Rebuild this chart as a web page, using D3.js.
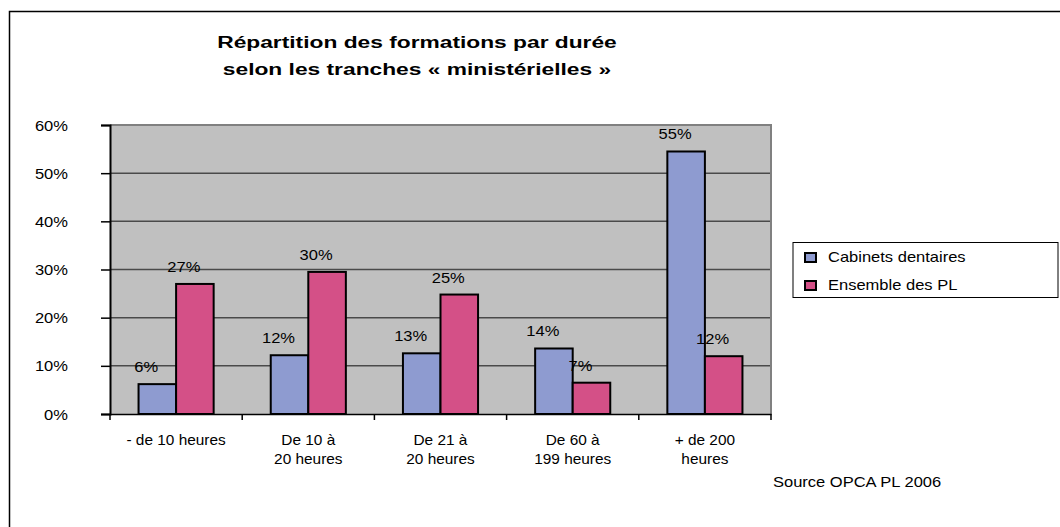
<!doctype html>
<html lang="fr">
<head>
  <meta charset="UTF-8">
  <title>Répartition des formations par durée</title>
  <script src="https://cdn.jsdelivr.net/npm/d3@7"></script>
  <style>
    body { margin: 0; background: white; }
    text { font-family: Arial, "Liberation Sans", sans-serif; fill: #000; }
    .wide { transform-box: fill-box; transform-origin: center; transform: scaleX(1.18); }
    .wide-end { transform-box: fill-box; transform-origin: right; transform: scaleX(1.18); }
    .wide-start { transform-box: fill-box; transform-origin: left; transform: scaleX(1.18); }
    .title { transform-box: fill-box; transform-origin: center; transform: scaleX(1.34); }
    .cat { transform-box: fill-box; transform-origin: center; transform: scaleX(1.1); }
  </style>
</head>
<body>
<div id="container"></div>
<script type="text/javascript">
var categories = [['- de 10 heures'], ['De 10 à', '20 heures'], ['De 21 à', '20 heures'], ['De 60 à', '199 heures'], ['+ de 200', 'heures']];
var series = ['Cabinets dentaires', 'Ensemble des PL'];
var cabinets = [0.062, 0.122, 0.126, 0.136, 0.545];
var ensemble = [0.27, 0.295, 0.248, 0.065, 0.12];
var labelsCab = ['6%', '12%', '13%', '14%', '55%'];
var labelsEns = ['27%', '30%', '25%', '7%', '12%'];
var yTicks = [0, 0.1, 0.2, 0.3, 0.4, 0.5, 0.6];
var titleLines = ['Répartition des formations par durée', 'selon les tranches « ministérielles »'];
var colors = ['#8e9bd0', '#d45087'];

var W = 1060, H = 527;
var plotLeft = 110, plotRight = 771, plotTop = 125, plotBottom = 414;

var svg = d3.select('#container').append('svg')
  .attr('width', W)
  .attr('height', H);

// outer frame (only top and left visible)
svg.append('rect')
  .attr('x', 9.5).attr('y', 11.5)
  .attr('width', W + 20).attr('height', H + 20)
  .attr('fill', 'white')
  .attr('stroke', '#000')
  .attr('stroke-width', 1.5);

// title
titleLines.forEach(function(t, i) {
  svg.append('text')
    .attr('class', 'title')
    .attr('x', 417).attr('y', 48 + i * 27)
    .attr('text-anchor', 'middle')
    .style('font-weight', 'bold')
    .style('font-size', '17px')
    .text(t);
});

var keys = categories.map(function(c) { return c.join(' '); });

var x0 = d3.scaleBand().domain(keys).range([plotLeft, plotRight]);
var x1 = d3.scaleBand().domain(series).range([0, x0.bandwidth()]).paddingOuter(0.76);
var y = d3.scaleLinear().domain([0, 0.6]).range([plotBottom, plotTop]);

// plot area
svg.append('rect')
  .attr('x', plotLeft).attr('y', plotTop)
  .attr('width', plotRight - plotLeft).attr('height', plotBottom - plotTop)
  .attr('fill', '#c0c0c0');

// gridlines
svg.append('g').selectAll('line')
  .data(yTicks.slice(1, -1))
  .enter().append('line')
  .attr('x1', plotLeft).attr('x2', plotRight)
  .attr('y1', function(d) { return y(d); })
  .attr('y2', function(d) { return y(d); })
  .attr('stroke', '#4a4a4a')
  .attr('stroke-width', 1.5);

// plot border top / right
svg.append('path')
  .attr('d', 'M' + plotLeft + ',' + plotTop + 'H' + plotRight + 'V' + plotBottom)
  .attr('fill', 'none')
  .attr('stroke', '#808080')
  .attr('stroke-width', 2);

// bars
var groups = svg.append('g').selectAll('g')
  .data(keys)
  .enter().append('g')
  .attr('transform', function(d) { return 'translate(' + x0(d) + ',0)'; });

groups.each(function(k, i) {
  var g = d3.select(this);
  var vals = [cabinets[i], ensemble[i]];
  var labs = [labelsCab[i], labelsEns[i]];
  series.forEach(function(s, j) {
    g.append('rect')
      .attr('x', x1(s))
      .attr('y', y(vals[j]))
      .attr('width', x1.bandwidth())
      .attr('height', plotBottom - y(vals[j]))
      .attr('fill', colors[j])
      .attr('stroke', '#000')
      .attr('stroke-width', 2);
    g.append('text')
      .attr('class', 'wide')
      .attr('x', x1(s) + x1.bandwidth() / 2 - 11)
      .attr('y', y(vals[j]) - 12)
      .attr('text-anchor', 'middle')
      .style('font-size', '14px')
      .text(labs[j]);
  });
});

// y axis
var yAxis = svg.append('g')
  .attr('transform', 'translate(' + plotLeft + ',0)')
  .call(d3.axisLeft(y).tickValues(yTicks).tickFormat(d3.format('.0%')).tickSize(9).tickPadding(33));
yAxis.select('.domain').attr('stroke', '#000').attr('stroke-width', 2);
yAxis.selectAll('.tick line').attr('stroke', '#000').attr('stroke-width', 1.5);
yAxis.selectAll('.tick text')
  .attr('class', 'wide-end')
  .attr('dy', '0.36em')
  .attr('fill', '#000')
  .style('font-family', 'Arial, "Liberation Sans", sans-serif')
  .style('font-size', '14px');

// x axis
var xAxis = svg.append('g')
  .attr('transform', 'translate(0,' + plotBottom + ')')
  .call(d3.axisBottom(x0).tickSize(0).tickFormat(''));
xAxis.select('.domain').attr('stroke', '#000').attr('stroke-width', 1.5);
svg.append('g').selectAll('line')
  .data(keys.concat(['end']))
  .enter().append('line')
  .attr('x1', function(d) { return d === 'end' ? plotRight : x0(d); })
  .attr('x2', function(d) { return d === 'end' ? plotRight : x0(d); })
  .attr('y1', plotBottom).attr('y2', plotBottom + 6)
  .attr('stroke', '#000').attr('stroke-width', 1.5);

categories.forEach(function(c, i) {
  c.forEach(function(line, k) {
    svg.append('text')
      .attr('class', 'cat')
      .attr('text-anchor', 'middle')
      .attr('x', x0(keys[i]) + x0.bandwidth() / 2)
      .attr('y', 445 + k * 19)
      .style('font-size', '14px')
      .text(line);
  });
});

// legend
var lg = svg.append('g');
lg.append('rect')
  .attr('x', 793).attr('y', 242.5)
  .attr('width', 265).attr('height', 55)
  .attr('fill', 'white')
  .attr('stroke', '#000')
  .attr('stroke-width', 1);
series.forEach(function(s, j) {
  lg.append('rect')
    .attr('x', 805).attr('y', 253 + j * 28)
    .attr('width', 11).attr('height', 9)
    .attr('fill', colors[j])
    .attr('stroke', '#000')
    .attr('stroke-width', 2);
  lg.append('text')
    .attr('class', 'wide-start')
    .attr('x', 828).attr('y', 262 + j * 28)
    .style('font-size', '14px')
    .text(s);
});

// source
svg.append('text')
  .attr('class', 'wide-start')
  .attr('x', 773).attr('y', 487)
  .style('font-size', '14px')
  .text('Source OPCA PL 2006');
</script>
</body>
</html>
